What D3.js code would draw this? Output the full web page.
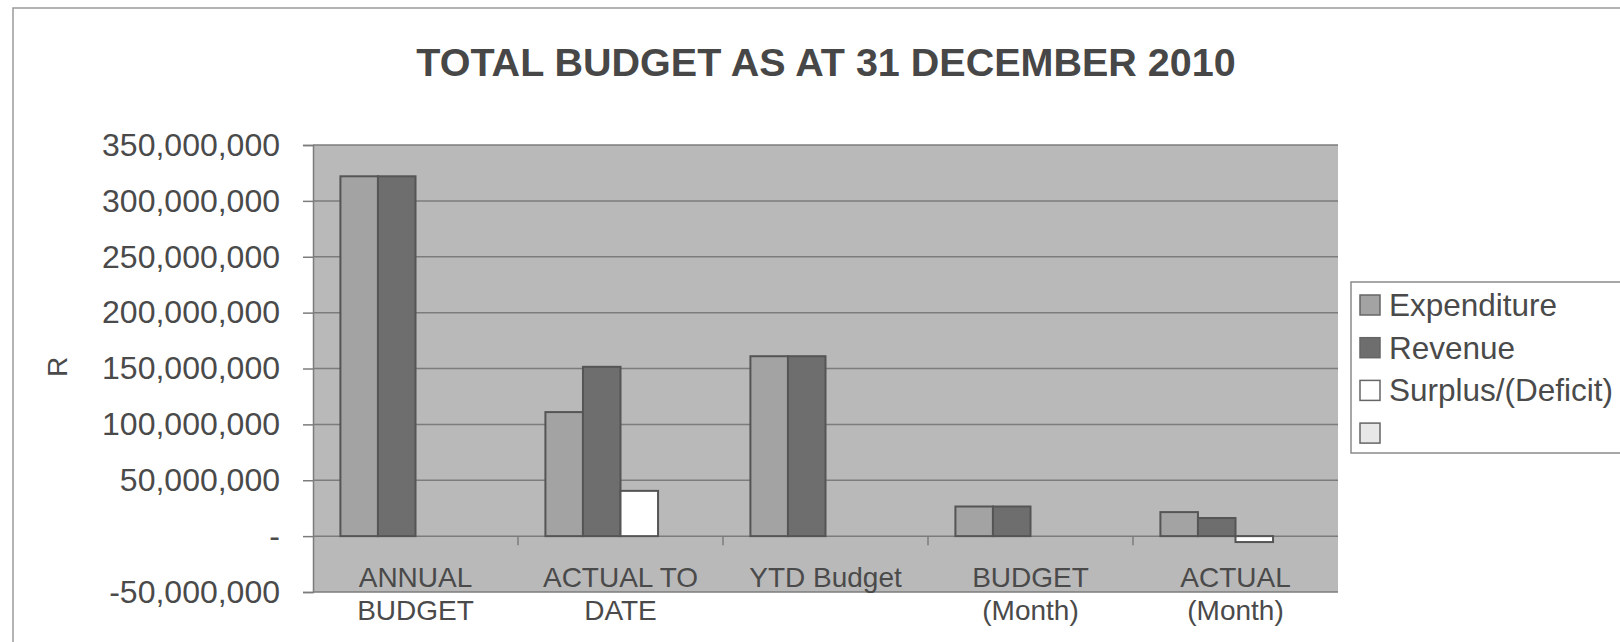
<!DOCTYPE html>
<html>
<head>
<meta charset="utf-8">
<script src="https://cdn.jsdelivr.net/npm/d3@7"></script>
<style>
  body { margin: 0; background: #fff; }
  text { font-family: "Liberation Sans", Arial, sans-serif; fill: #4a4a4a; }
</style>
</head>
<body>
<svg id="chart" width="1620" height="642"></svg>
<script>
// data
const categories = ["ANNUAL BUDGET", "ACTUAL TO DATE", "YTD Budget", "BUDGET (Month)", "ACTUAL (Month)"];
const catLines = [["ANNUAL", "BUDGET"], ["ACTUAL TO", "DATE"], ["YTD Budget"], ["BUDGET", "(Month)"], ["ACTUAL", "(Month)"]];
const seriesNames = ["Expenditure", "Revenue", "Surplus/(Deficit)", ""];
const expenditure = [322000000, 111000000, 161000000, 26500000, 21500000];
const revenue = [322000000, 151500000, 161000000, 26500000, 16200000];
const surplus = [0, 40500000, 0, 0, -5300000];
const blank = [0, 0, 0, 0, 0];
const yTicks = [-50000000, 0, 50000000, 100000000, 150000000, 200000000, 250000000, 300000000, 350000000];

const allSeries = [expenditure, revenue, surplus, blank];
const fills = ["#a3a3a3", "#6e6e6e", "#ffffff", "#e8e8e8"];

const svg = d3.select("#chart");
const plotL = 313, plotR = 1338, plotT = 145, plotB = 592;

// outer frame
svg.append("rect").attr("x", 13).attr("y", 8).attr("width", 1640).attr("height", 700)
  .attr("fill", "none").attr("stroke", "#9a9a9a").attr("stroke-width", 1.5);

svg.append("text").attr("x", 826).attr("y", 76).attr("text-anchor", "middle")
  .attr("font-size", 39.5).attr("font-weight", "bold").style("fill", "#474747")
  .text("TOTAL BUDGET AS AT 31 DECEMBER 2010");

const y = d3.scaleLinear().domain([-50000000, 350000000]).range([plotB, plotT]);
const x0 = d3.scaleBand().domain(categories).range([plotL, plotR]).padding(0);
const x1 = d3.scaleBand().domain(d3.range(4)).range([0, x0.bandwidth()]).paddingInner(0).paddingOuter(0.73);

// plot area
svg.append("rect").attr("x", plotL).attr("y", plotT).attr("width", plotR - plotL).attr("height", plotB - plotT)
  .attr("fill", "#b9b9b9");

// gridlines
svg.selectAll(".grid").data(yTicks).enter().append("line")
  .attr("x1", plotL).attr("x2", plotR)
  .attr("y1", d => y(d)).attr("y2", d => y(d))
  .attr("stroke", "#7c7c7c").attr("stroke-width", 1.5);

// y axis, excel style: zero shown as a dash, plain hyphen for negatives
const fmt = d3.format(",");
const yAxis = svg.append("g").attr("transform", `translate(${plotL},0)`)
  .call(d3.axisLeft(y).tickValues(yTicks).tickSize(10).tickPadding(23)
    .tickFormat(d => d === 0 ? "-" : fmt(d).replace("\u2212", "-")));
yAxis.select(".domain").attr("stroke", "#7c7c7c").attr("stroke-width", 1.5);
yAxis.selectAll(".tick line").attr("stroke", "#7c7c7c").attr("stroke-width", 1.5);
yAxis.selectAll(".tick text").attr("font-size", 32).style("fill", "#4a4a4a");

svg.append("text").attr("transform", "translate(67,367) rotate(-90)")
  .attr("text-anchor", "middle").attr("font-size", 28).text("R");

// category ticks on the zero line
svg.selectAll(".ctick").data(categories.slice(1)).enter().append("line")
  .attr("x1", d => x0(d)).attr("x2", d => x0(d))
  .attr("y1", y(0)).attr("y2", y(0) + 9)
  .attr("stroke", "#7c7c7c").attr("stroke-width", 1.5);

// bars
const groups = svg.selectAll(".cat").data(categories).enter().append("g")
  .attr("transform", d => `translate(${x0(d)},0)`);
groups.selectAll("rect").data((d, i) => allSeries.map((s, k) => ({k: k, v: s[i]})).filter(e => e.v !== 0))
  .enter().append("rect")
  .attr("x", d => x1(d.k)).attr("width", x1.bandwidth())
  .attr("y", d => y(Math.max(0, d.v)))
  .attr("height", d => Math.abs(y(d.v) - y(0)))
  .attr("fill", d => fills[d.k]).attr("stroke", "#555").attr("stroke-width", 2);

// category labels
groups.each(function(d, i) {
  const t = d3.select(this).append("text").attr("text-anchor", "middle").attr("font-size", 28);
  catLines[i].forEach((line, j) => {
    t.append("tspan").attr("x", x0.bandwidth() / 2).attr("y", 587 + j * 33).text(line);
  });
});

// legend
const lg = svg.append("g");
lg.append("rect").attr("x", 1351).attr("y", 282).attr("width", 300).attr("height", 171)
  .attr("fill", "#fff").attr("stroke", "#8a8a8a").attr("stroke-width", 1.5);
const items = lg.selectAll(".item").data(seriesNames).enter().append("g")
  .attr("transform", (d, i) => `translate(1360,${305 + i * 42.7})`);
items.append("rect").attr("x", 0).attr("y", -10).attr("width", 20).attr("height", 20)
  .attr("fill", (d, i) => fills[i]).attr("stroke", "#666").attr("stroke-width", 1.5);
items.append("text").attr("x", 29).attr("y", 11).attr("font-size", 31.5).text(d => d);
</script>
</body>
</html>
